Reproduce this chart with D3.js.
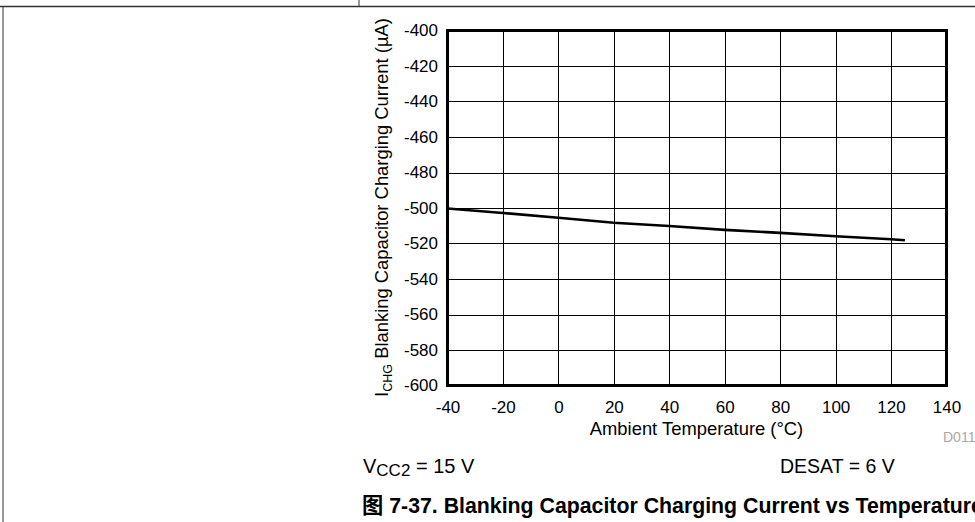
<!DOCTYPE html>
<html><head><meta charset="utf-8">
<script src="https://cdn.jsdelivr.net/npm/d3@7"></script>
<style>
html,body{margin:0;padding:0;background:#fff;}
svg{display:block;font-family:"Liberation Sans",Arial,sans-serif;}
</style></head>
<body>
<svg id="c" width="975" height="522"></svg>
<script>
const temperature = [-40, -20, 0, 20, 40, 60, 80, 100, 120, 125];
const chargingCurrent = [-500.3, -502.8, -505.5, -508.3, -510.1, -512.3, -514.0, -515.9, -517.6, -518.2];
const xTicks = [-40, -20, 0, 20, 40, 60, 80, 100, 120, 140];
const yTicks = [-400, -420, -440, -460, -480, -500, -520, -540, -560, -580, -600];

const svg = d3.select("#c");
const L = 447.5, R = 946.5, T = 30.5, B = 385.5;
const x = d3.scaleLinear().domain([-40, 140]).range([L, R]);
const y = d3.scaleLinear().domain([-600, -400]).range([B, T]);
const fmt = d => String(d); // plain hyphen-minus like the reference

// page frame
svg.append("line").attr("x1",0).attr("x2",975).attr("y1",6.5).attr("y2",6.5).attr("stroke","#333").attr("stroke-width",1.5);
svg.append("line").attr("x1",359).attr("x2",359).attr("y1",0).attr("y2",6.5).attr("stroke","#333").attr("stroke-width",1);
svg.append("line").attr("x1",3).attr("x2",3).attr("y1",6.5).attr("y2",522).attr("stroke","#333").attr("stroke-width",1);

// grid
const g = svg.append("g");
g.selectAll(".vg").data(xTicks).join("line")
  .attr("x1", d => Math.round(x(d)) + 0.5).attr("x2", d => Math.round(x(d)) + 0.5)
  .attr("y1", T).attr("y2", B).attr("stroke", "#000").attr("stroke-width", 1);
g.selectAll(".hg").data(yTicks).join("line")
  .attr("y1", d => Math.round(y(d)) + 0.5).attr("y2", d => Math.round(y(d)) + 0.5)
  .attr("x1", L).attr("x2", R).attr("stroke", "#000").attr("stroke-width", 1);

// axes (labels only)
const xAxis = svg.append("g").attr("transform", `translate(0,${B})`)
  .call(d3.axisBottom(x).tickValues(xTicks).tickSize(0).tickPadding(15).tickFormat(fmt));
xAxis.select(".domain").remove();
xAxis.selectAll("text").attr("font-size", 17).attr("fill", "#000").attr("font-family", "Liberation Sans, Arial, sans-serif");

const yAxis = svg.append("g").attr("transform", `translate(${L},0)`)
  .call(d3.axisLeft(y).tickValues(yTicks).tickSize(0).tickPadding(9.5).tickFormat(fmt));
yAxis.select(".domain").remove();
yAxis.selectAll("text").attr("font-size", 17).attr("fill", "#000").attr("font-family", "Liberation Sans, Arial, sans-serif");

// data line
svg.append("path").datum(temperature.map((t, i) => [t, chargingCurrent[i]]))
  .attr("d", d3.line().x(d => x(d[0])).y(d => y(d[1])))
  .attr("fill", "none").attr("stroke", "#000").attr("stroke-width", 2.6);

// plot border
svg.append("rect").attr("x", L).attr("y", T).attr("width", R - L).attr("height", B - T)
  .attr("fill", "none").attr("stroke", "#000").attr("stroke-width", 3);

// axis titles
svg.append("text").attr("x", 696.5).attr("y", 435).attr("text-anchor", "middle")
  .attr("font-size", 18.4).text("Ambient Temperature (°C)");

const yt = svg.append("text").attr("transform", `translate(387.5,207.5) rotate(-90)`)
  .attr("text-anchor", "middle").attr("font-size", 18.4);
yt.append("tspan").text("I");
yt.append("tspan").attr("font-size", 12.5).attr("dy", 4).text("CHG");
yt.append("tspan").attr("dy", -4).text(" Blanking Capacitor Charging Current (µA)");

svg.append("text").attr("x", 943).attr("y", 442)
  .attr("font-size", 14).attr("fill", "#a8a8a8").text("D011");

// conditions
const vc = svg.append("text").attr("x", 363).attr("y", 473).attr("font-size", 20);
vc.append("tspan").text("V");
vc.append("tspan").attr("font-size", 17).attr("dy", 3).text("CC2");
vc.append("tspan").attr("dy", -3).text(" = 15 V");
svg.append("text").attr("x", 780).attr("y", 473).attr("font-size", 19.5).text("DESAT = 6 V");

// caption
svg.append("text").attr("x", 362).attr("y", 513).attr("font-size", 21.3).attr("font-weight", "bold")
  .attr("font-family", "Liberation Sans, 'Noto Sans CJK SC', sans-serif")
  .text("图 7-37. Blanking Capacitor Charging Current vs Temperature");
</script>
</body></html>
